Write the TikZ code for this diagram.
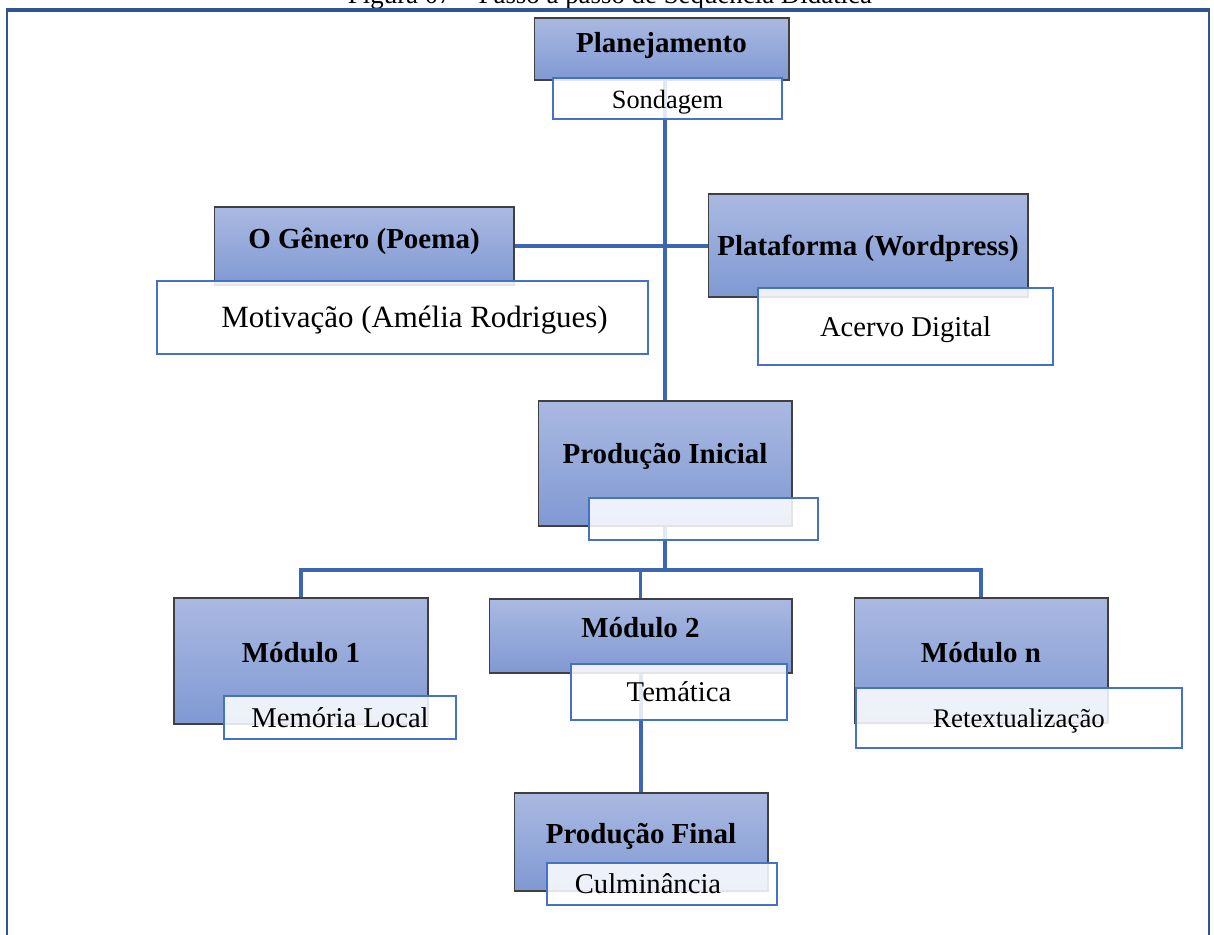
\documentclass[tikz,border=0pt]{standalone}
\usepackage{fontspec}
\setmainfont{Liberation Serif}
\usetikzlibrary{backgrounds}

\definecolor{stepblue}{HTML}{4472C4}
\definecolor{linkblue}{HTML}{3C66B4}
\definecolor{frameblue}{HTML}{2F5597}
\definecolor{shadetop}{HTML}{AAB9E1}
\definecolor{shadebot}{HTML}{8099D3}

\tikzset{
	phase/.style={draw=black!75, line width=0.6pt, top color=shadetop, bottom color=shadebot,
		font=\fontsize{16.5}{19}\selectfont\bfseries, text height=0.4cm, text depth=0pt, inner sep=0pt},
	note/.style={draw=stepblue, line width=0.8pt, fill=white, fill opacity=0.86, text opacity=1,
		font=\fontsize{16.3}{19}\selectfont, text height=0.38cm, text depth=0pt, inner sep=0pt},
	lift/.style={text depth=#1},
	link/.style={draw=linkblue, line width=1.9pt},
}

\begin{document}
\begin{tikzpicture}[x=0.02cm, y=-0.02cm]
	\clip (0,0) rectangle (1214,934);
	% caption, cut by the top edge
	\node (caption) [anchor=base, font=\fontsize{15.3}{18}\selectfont] at (610,3) {Figura 07 – Passo a passo de Sequência Didática};
	\draw[frameblue, line width=1.1pt] (7,940) -- (7,10) -- (1209,10) -- (1209,940);
	\draw[frameblue, line width=1.8pt] (6,10) -- (1210,10);

	% phases and notes
	\node (plan) [phase, minimum width=5.1cm, minimum height=1.24cm, lift=0.28cm] at (661.5,49) {Planejamento};
	\node (sond) [note, minimum width=4.58cm, minimum height=0.82cm, font=\fontsize{15}{18}\selectfont] at (667.5,98.5) {Sondagem};
	\node (gen) [phase, minimum width=6cm, minimum height=1.56cm, lift=0.32cm] at (364,246) {O Gênero (Poema)};
	\node (motiv) [note, minimum width=9.82cm, minimum height=1.46cm, font=\fontsize{17.6}{20}\selectfont] at (402.5,317.5) {\kern0.48cm Motivação (Amélia Rodrigues)};
	\node (plat) [phase, minimum width=6.4cm, minimum height=2.06cm] at (868,245.5) {Plataforma (Wordpress)};
	\node (acer) [note, minimum width=5.9cm, minimum height=1.54cm] at (905.5,326.5) {Acervo Digital};
	\node (pini) [phase, minimum width=5.08cm, minimum height=2.5cm, lift=0.42cm] at (665,463.5) {Produção Inicial};
	\node (blank) [note, minimum width=4.58cm, minimum height=0.84cm] at (703.5,519) {};
	\node (mod1) [phase, minimum width=5.08cm, minimum height=2.52cm, lift=0.36cm] at (301,661) {Módulo 1};
	\node (mem) [note, minimum width=4.64cm, minimum height=0.86cm] at (340,717.5) {Memória Local};
	\node (mod2) [phase, minimum width=6.06cm, minimum height=1.48cm, lift=0.36cm] at (640.5,636) {Módulo 2};
	\node (tema) [note, minimum width=4.32cm, minimum height=1.12cm] at (679,692) {Temática};
	\node (modn) [phase, minimum width=5.08cm, minimum height=2.5cm, lift=0.34cm] at (981,660.5) {Módulo n};
	\node (retx) [note, minimum width=6.52cm, minimum height=1.2cm, font=\fontsize{15.3}{18}\selectfont] at (1019,718) {Retextualização};
	\node (pfin) [phase, minimum width=5.08cm, minimum height=1.96cm, lift=0.36cm] at (641,842) {Produção Final};
	\node (culm) [note, minimum width=4.6cm, minimum height=0.84cm] at (662,884) {Culminância\kern0.56cm};

	% connectors
	\begin{scope}[on background layer]
		\draw[link] (plan.south -| pini.north) -- (pini.north);
		\draw[link] (gen.east) -- (gen.east -| plat.west);
		\coordinate (bus) at (665,570);
		\draw[link] (pini.south) -- (bus);
		\draw[link] (mod1.north) |- (bus) -| (modn.north);
		\draw[link] (mod2.north) -- (mod2.north |- bus);
		\draw[link] (mod2.south -| pfin.north) -- (pfin.north);
	\end{scope}
\end{tikzpicture}
\end{document}
